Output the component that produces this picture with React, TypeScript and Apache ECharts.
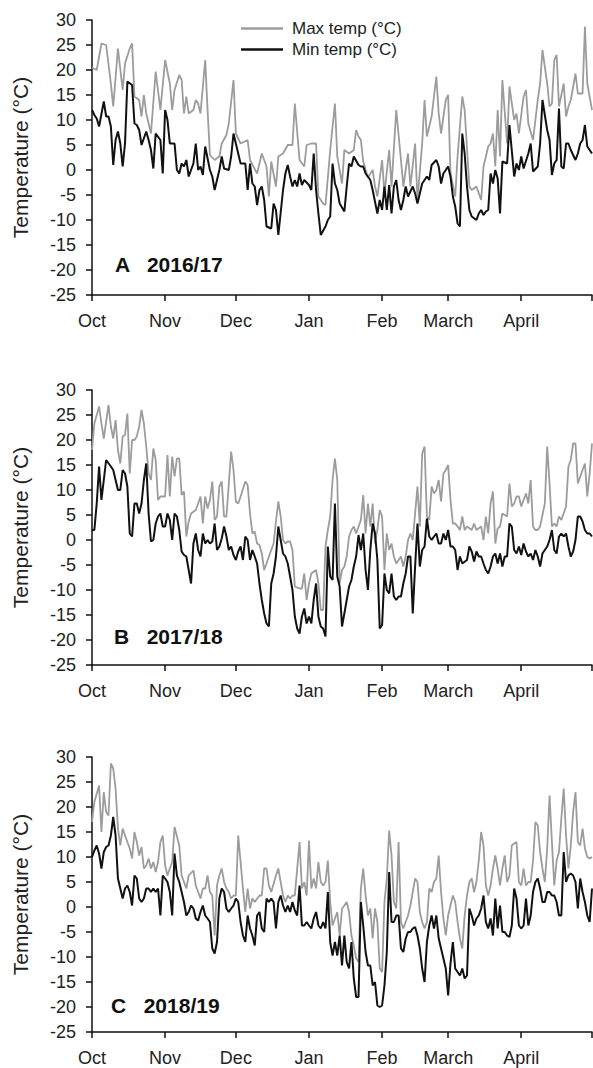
import React, { useEffect, useRef } from "react";
import * as echarts from "echarts";

// Day index counted from 1 October (0) to 1 May (212)
const monthTicks = [0, 31, 61, 92, 123, 151, 182, 212];
const monthLabels = ["Oct", "Nov", "Dec", "Jan", "Feb", "March", "April"];
const seasonLabels = ["A   2016/17", "B   2017/18", "C   2018/19"];
const seriesNames = ["Max temp (°C)", "Min temp (°C)"];

const maxA: [number, number][] = [[0,20.5],[2,20],[4,25.3],[6,25],[8,17.3],[9,12.7],[11,24.3],[13,16],[14,21.3],[16,24.3],[17,25.3],[18,14.7],[20,14],[21,10.7],[22,15],[23,11.3],[25,7.3],[27,19.7],[29,12],[31,22],[33,17.3],[34,12],[35,16],[37,19],[38,18],[39,11.3],[40,14.7],[41,11.3],[43,12],[44,14],[45,13.3],[46,11.3],[48,22],[49,12],[50,3],[52,2],[54,2.7],[55,5.3],[57,7],[58,9.3],[60,18],[61,7.3],[63,5.3],[66,6],[67,2],[70,-0.7],[72,3.3],[74,0.7],[75,-5.3],[76,1.7],[78,-3.3],[79,2.7],[81,3.3],[83,5],[85,5],[86,13.3],[88,2],[90,0.7],[91,5],[93,5.3],[95,5.3],[96,-5.3],[98,-6.7],[99,-7],[101,4],[103,13.3],[104,2.7],[106,-2.7],[107,4],[109,3.3],[111,4],[112,8],[113,6.7],[114,6],[115,1.7],[117,-1.5],[119,0],[120,-3.3],[121,-5.3],[123,2],[124,-4.7],[126,4],[127,-3.3],[129,12],[131,2],[132,-3.3],[134,3.3],[135,-3.3],[137,5.3],[138,-6],[140,5.3],[141,14],[142,6.7],[144,10.7],[146,18.7],[147,11.3],[148,7.3],[150,14],[151,15],[152,-0.7],[154,-5.3],[155,2.7],[157,14.7],[158,12],[160,-3.3],[161,-4],[163,-3.3],[165,-6],[166,0.7],[168,4.7],[169,5.3],[170,7.3],[171,0.7],[172,12],[173,2.7],[174,18],[176,5.3],[177,16.7],[179,10],[180,11.3],[181,7.3],[183,14.7],[184,16],[185,9.3],[187,6],[189,14],[190,17.3],[191,24],[193,17.3],[194,12.7],[195,13.3],[196,22],[197,23],[198,12.7],[200,17.3],[201,10.7],[202,12.7],[203,14],[205,19.3],[206,15.3],[208,15.3],[209,28.7],[210,17.3],[212,12]];

const minA: [number, number][] = [[0,12],[1,11],[2,10.3],[3,8.7],[5,13.7],[6,10.7],[7,10.7],[8,8.7],[9,1],[10,6],[11,7.7],[12,5.3],[13,0.7],[14,5.3],[15,17.7],[17,17],[18,9.3],[19,9],[20,8],[21,5],[23,7.7],[24,6],[25,4],[26,0.3],[27,7.3],[29,6],[30,-0.7],[31,12],[32,10],[33,5.3],[35,5.3],[36,0],[37,-0.7],[38,1.3],[39,0.7],[40,2],[41,-1.3],[43,1.3],[44,5.3],[45,0],[46,0.7],[47,-1],[48,4.7],[50,0],[51,-1.3],[52,-4],[54,0],[55,2.7],[56,0.3],[58,0],[59,2.7],[60,7.3],[62,3.3],[63,1.3],[65,1.3],[66,-4],[67,1.3],[68,-2.7],[69,-3.3],[70,-7],[71,-4],[72,-3.3],[73,-6],[74,-11.3],[76,-11.7],[77,-6.7],[78,-8],[79,-13],[81,-4],[82,-0.7],[83,1],[84,-1.3],[85,-3.3],[86,-2],[87,-3.3],[88,-0.7],[89,-3],[90,-2],[92,-3],[93,-4],[94,3.3],[95,-4],[96,-8.7],[97,-13],[99,-11.3],[100,-10],[101,-9.3],[102,1.3],[103,-2.7],[104,-4],[105,-6.7],[107,-8.3],[108,-3.3],[109,1.3],[110,0.7],[111,2.7],[113,1],[114,0.7],[115,0.7],[116,-0.7],[118,-2],[119,-4],[121,-8.7],[122,-6],[123,-8],[124,-3.3],[125,-8],[126,-3],[127,-8.7],[128,-3.3],[129,-2],[130,-6],[131,-8],[132,-6],[133,-3.3],[134,-5.3],[136,-3.3],[137,-4.7],[138,-6.7],[139,-4.7],[140,-2.7],[142,-1.3],[143,-2],[144,1],[146,2],[147,0.7],[148,-2.7],[149,-0.7],[151,0.7],[152,-1.3],[153,-5.3],[154,-7.3],[155,-10.7],[156,-11.3],[157,7.3],[158,3.3],[159,-3.3],[160,-8],[161,-9.3],[163,-10],[164,-8.7],[165,-8],[166,-9],[167,-8.3],[168,-8],[169,-0.7],[170,-2.7],[171,0],[172,-1.7],[173,-8.7],[174,1.7],[176,1.3],[177,9],[179,-1.3],[180,1.3],[181,0],[182,2.7],[183,0.3],[185,3.3],[186,5.3],[187,-0.3],[189,0.7],[190,5.3],[191,14],[193,8],[194,6],[195,-1],[196,1.3],[197,2],[198,12.3],[199,0.7],[200,0.3],[201,5.3],[202,5.3],[203,4],[205,2],[206,3.3],[207,5.3],[208,6],[209,9],[210,4.7],[212,3.3]];

const maxB: [number, number][] = [[0,18],[1,23.3],[3,26.7],[4,23.3],[5,20.3],[7,27],[8,22.7],[9,20.3],[10,24],[11,18],[12,15.3],[13,20.7],[14,21],[15,25.3],[16,13.3],[17,20],[18,20],[19,20.7],[20,22.7],[21,26],[22,23.3],[23,18.7],[24,13.3],[25,12],[26,18.3],[27,16],[28,8],[29,8.7],[30,8.7],[31,8.7],[32,17],[33,8.7],[34,16.7],[35,12.7],[36,16.3],[37,16.3],[38,9],[39,9.7],[40,0.7],[41,3.7],[42,5.3],[44,6],[45,7.3],[46,8.7],[47,3.3],[48,8.7],[49,6.3],[50,8],[51,11.7],[52,4],[53,4.7],[54,10.7],[55,11.7],[56,4.7],[57,4.7],[59,17.7],[60,14],[61,7.7],[62,7.3],[63,8.7],[65,11.7],[66,11],[67,5.3],[68,1.3],[69,1.7],[70,-0.7],[71,-1],[72,-2.7],[73,-6],[74,-4.7],[76,-2],[77,-0.7],[78,3.7],[79,7.7],[80,4.7],[81,0],[82,-0.7],[83,-0.3],[84,-0.3],[85,-2],[86,-9.3],[88,-9.7],[89,-9.7],[90,-6.7],[91,-12],[92,-8.7],[93,-6.7],[95,-6],[96,-8.7],[97,-14],[98,-14],[99,-1.3],[100,2],[101,4.7],[102,12],[103,16.3],[104,12],[105,-8.7],[106,-6],[107,-5.3],[108,-3.3],[109,0.7],[110,2],[111,2.7],[112,1.3],[114,4],[115,9],[116,1.3],[117,7.3],[118,2.7],[119,7.3],[120,-0.7],[121,2],[122,6],[123,4.7],[124,-6],[125,1.3],[126,-2],[127,-0.7],[128,-3.3],[129,-4.7],[131,-3.3],[132,-5.3],[133,-3.3],[134,0],[135,1.3],[136,0],[137,5.3],[138,10.7],[139,2.7],[140,17.3],[141,18.7],[142,4.7],[143,4],[144,10.7],[145,9.3],[146,10],[147,12],[148,7.7],[149,13.3],[150,14],[151,15],[152,8],[153,3.3],[154,3.3],[155,2.7],[156,2],[157,4.7],[158,2],[159,2.7],[161,2],[162,3.3],[163,2],[165,2.7],[166,0],[167,4.7],[168,1.3],[169,7.3],[170,9.7],[171,-0.7],[172,2.3],[173,2.7],[174,5.3],[176,4.7],[177,11.3],[178,6.7],[179,7.3],[180,8.7],[181,8.7],[182,6.7],[184,9.3],[185,7.3],[186,12],[187,2.7],[188,2],[189,2],[190,2.7],[192,7.3],[193,18.7],[194,11.3],[195,2.7],[196,3.3],[197,2.7],[198,4.7],[199,4],[201,6.7],[202,14.7],[203,16],[204,19.3],[205,19.3],[206,11.3],[208,14],[209,15.3],[210,8.7],[211,13.3],[212,19.3]];

const minB: [number, number][] = [[0,2],[1,2],[2,7.3],[3,14.7],[4,8],[5,12],[6,16],[8,14.7],[9,14],[10,12],[11,10],[12,10],[13,14],[14,13.3],[15,10.7],[16,1.3],[17,0.7],[18,7.3],[19,7.3],[20,5.3],[21,7.3],[22,12],[23,15.3],[24,5.3],[25,-0.3],[26,0],[27,3.3],[28,4.7],[29,5.3],[30,2.7],[31,2.7],[32,5.3],[33,4],[34,0],[35,5.3],[36,4.7],[37,2],[38,-2.3],[39,-3],[40,-3.3],[41,-6],[42,-8.7],[43,-0.7],[44,1.3],[45,-2],[46,-3.3],[47,1.3],[48,-0.7],[49,0],[50,-0.7],[51,-0.3],[52,3.3],[53,-2],[54,-1.3],[55,0.3],[56,2.7],[57,0.7],[58,-2],[59,-1.3],[60,-3],[61,-4],[62,-2.3],[63,-1.3],[64,-4],[65,0.7],[66,0],[67,-4],[68,-2],[69,-3.3],[70,-4.7],[71,-8.7],[72,-12],[73,-14.7],[74,-16.7],[75,-17.3],[76,-8.7],[77,-6.7],[78,-3.3],[79,2.7],[80,0],[81,-2.7],[82,-3.3],[83,-4.7],[84,-7.3],[85,-10],[86,-15.3],[87,-17.7],[88,-18.7],[89,-15.3],[90,-13.7],[91,-16.7],[92,-15.3],[93,-16.7],[94,-12],[95,-8.7],[96,-15.3],[97,-17.3],[98,-17.7],[99,-19.3],[100,-1.3],[101,-7.3],[102,-8],[103,7.3],[104,-7.3],[105,-9.3],[106,-17.3],[107,-14.7],[108,-12],[109,-9.3],[110,-8],[111,-5.3],[112,-3.3],[113,1],[114,-2],[115,1.3],[116,-6],[117,-10],[118,-2],[119,3.3],[120,1.3],[121,-4],[122,-17.7],[123,-17],[124,-6.7],[125,-10],[126,-10.7],[127,-6.7],[128,-11.3],[129,-12],[130,-11.3],[131,-11.3],[132,-8.7],[133,-6.7],[134,-3.3],[135,-3.3],[136,-14.7],[137,-5.3],[138,3.3],[139,-5.3],[140,-2],[141,-1.3],[142,4.3],[143,0.7],[144,0],[145,0.7],[146,1.3],[147,-0.7],[148,-0.7],[149,1.3],[150,0],[151,2],[152,-1.3],[153,-1.3],[154,-2],[155,-6],[156,-3.3],[157,-4.7],[159,-4],[160,-1.3],[161,-2.3],[162,-4.3],[163,-2.3],[164,-3.3],[165,-3.3],[166,-4.7],[167,-6],[168,-6.7],[169,-5.3],[170,-3.3],[171,-2.7],[172,-4.7],[173,-2.7],[174,-5.3],[175,-3.3],[176,-3.3],[177,3.3],[178,2.7],[179,-2],[180,-2.7],[181,-1.3],[182,-3],[183,-0.7],[184,-2.3],[185,-3.3],[186,-2.7],[187,-4],[188,-2],[189,-3.3],[190,-5.3],[191,-2.7],[192,-2],[193,-1.3],[194,0],[195,2],[196,-2],[197,-2.7],[198,0.7],[199,1.3],[200,0.7],[201,1.3],[202,-1.3],[203,-3.3],[204,-2.3],[205,0],[206,4.7],[207,4.7],[208,3.7],[209,2],[210,1.3],[211,1.3],[212,0.7]];

const maxC: [number, number][] = [[0,17],[1,21],[3,24.3],[4,15],[5,23],[6,19],[7,18.3],[8,28.7],[9,27.7],[10,23.7],[11,15.7],[12,12.3],[13,15.7],[14,14.3],[15,13],[16,11.7],[17,9.7],[18,15],[19,13],[20,10.3],[21,12],[22,7.7],[23,8.3],[24,9.7],[25,7.7],[26,9],[27,7],[28,9],[29,13],[30,14.3],[31,8.3],[32,6.3],[33,7.7],[34,9],[35,16],[37,12.3],[38,6.3],[39,5],[40,3.7],[41,6.3],[43,7.3],[44,4.3],[45,3],[46,1.7],[47,3.7],[48,3.7],[49,6.3],[50,3],[51,2.3],[52,-5.7],[53,4.3],[54,6.3],[55,7.7],[56,5],[57,3.7],[58,3],[59,1.7],[60,2.3],[61,2.3],[62,14.3],[63,9],[64,3.7],[65,-1],[66,3.7],[67,-0.3],[68,1.7],[69,1],[71,2.3],[72,2.3],[73,7.7],[74,7.7],[75,4.3],[76,3],[78,6.3],[79,7.7],[80,5],[81,2.3],[82,1],[83,2.3],[84,1.7],[85,2.3],[86,2.3],[88,13],[89,3.7],[90,5],[91,2.3],[92,13.3],[93,3.7],[94,5.7],[95,3.7],[96,9],[97,5],[98,4.3],[99,5],[100,9.3],[101,1],[102,-3.7],[103,-2.3],[104,-1],[105,-5.7],[106,-0.3],[107,0.3],[108,1],[109,-1],[110,-5.7],[111,-7.7],[112,-10.3],[113,-11],[114,3.7],[115,7.7],[116,2.3],[117,-1.7],[118,-0.3],[119,-6.3],[120,-0.3],[121,-3],[122,-12.3],[123,-13],[124,1],[125,5.7],[126,15.3],[127,10.3],[128,1],[129,-0.3],[130,13],[131,-3],[132,-4.3],[133,-3],[134,-1.7],[135,0.3],[137,5.7],[138,5],[139,-1],[140,-3],[141,-4.3],[142,-3],[143,3.7],[144,3],[145,5],[146,5.7],[147,10.3],[148,3],[149,-2.3],[150,-5.7],[151,-1.7],[152,0.3],[153,2.3],[154,1],[155,-3],[156,-6.3],[157,-8.3],[158,-1.7],[159,2.3],[160,5],[161,5.7],[162,3],[163,5],[164,9.3],[165,15],[166,12.3],[167,4.3],[168,2.3],[169,4.3],[170,7.7],[171,10.3],[172,7.7],[173,4.3],[174,7.7],[175,10.3],[176,5],[177,6.3],[178,12.3],[179,12.7],[180,13],[181,5],[182,4.3],[183,7.7],[184,4.3],[185,5],[186,5],[187,9.3],[188,17],[189,16.3],[190,11],[191,7.7],[192,5],[193,11.7],[194,22.3],[195,13],[196,4.3],[197,9.3],[198,11],[199,17.7],[200,23.7],[201,14.3],[202,7.7],[203,12.3],[204,19],[205,23],[206,13],[207,12.3],[208,15.7],[209,11.7],[210,10],[211,9.7],[212,10]];

const minC: [number, number][] = [[0,10],[1,11.3],[2,12.3],[3,10.7],[4,7.7],[5,11],[6,12],[7,12.3],[8,14.3],[9,18],[10,14.3],[11,5.7],[12,3.7],[13,1.7],[14,3.7],[15,4.3],[16,3],[17,0.3],[18,6.3],[19,5.7],[20,1.7],[21,1],[22,1.7],[23,3.7],[24,3.7],[25,3],[26,3.7],[27,3],[28,3.7],[29,-1.7],[30,6.3],[31,5.7],[32,5],[33,3],[34,-1.7],[35,10.7],[36,6.3],[37,5],[38,3],[39,1],[40,-1.7],[41,-1],[42,0.3],[43,-0.3],[44,-2.3],[45,-2.7],[46,-1],[47,0.3],[48,-1.7],[49,-2.3],[50,-3],[51,-8.3],[52,-9.3],[53,-7],[54,1.7],[55,3.7],[56,3],[57,-0.3],[58,-1],[59,-0.3],[60,0.3],[61,1.7],[62,1],[63,-3],[64,-5.7],[65,-7],[66,-1.7],[67,-4.3],[68,-5.7],[69,-7.7],[70,-1.7],[71,-1],[72,-4.3],[73,-5],[74,1.7],[75,1],[76,1.7],[77,1],[78,-4.3],[79,1],[80,2.3],[81,0.3],[82,-1],[83,0.3],[84,-1],[85,1],[86,-0.7],[87,-1.7],[88,4.3],[89,-3.7],[90,-3.7],[91,-3],[92,-3.7],[93,-4.3],[94,-2.3],[95,-1],[96,-3.7],[97,-4.3],[98,-3],[99,-4.3],[100,3],[101,-7],[102,-9.7],[103,-7],[104,-9.7],[105,-5.7],[106,-11.7],[107,-5.7],[108,-11],[109,-12.3],[110,-7],[111,-14.3],[112,-18],[113,-18],[114,1],[115,-3.7],[116,-9],[117,-11.7],[118,-11.7],[119,-15.7],[120,-15],[121,-19.7],[122,-20],[123,-19.7],[124,-15.7],[125,-9],[126,7],[127,-3],[128,-3],[129,-1.7],[130,-1.7],[131,-8.3],[132,-9],[133,-6.3],[134,-5],[135,-5],[136,-4.3],[137,-4],[138,-5.7],[139,-8.3],[140,-12.3],[141,-15],[142,-7],[143,-3.7],[144,-1.7],[145,-4.3],[146,-1.7],[147,-6.3],[148,-8.3],[149,-10.3],[150,-12.3],[151,-17.7],[152,-11.3],[153,-7],[154,-12.3],[155,-13],[156,-13.7],[157,-12.3],[158,-14.3],[159,-13.7],[160,-0.3],[161,-1.7],[162,-3.7],[163,-2.3],[164,-1.7],[165,-0.3],[166,2.3],[167,-3],[168,-4.3],[169,-2.3],[170,-5.7],[171,1.7],[172,-4.3],[173,0.3],[174,-5],[175,-5],[176,-5.7],[177,-6],[178,-3.7],[179,3.7],[180,1.7],[181,-3.7],[182,-4.3],[183,-3.7],[184,1.7],[185,-3.7],[186,-1.7],[187,3],[188,5],[189,5.7],[190,3.7],[191,1],[192,1],[193,3],[194,3],[195,2.3],[196,2.3],[197,1],[198,-1.7],[199,-1.7],[200,11],[201,5],[202,6.3],[203,6.7],[204,6.3],[205,5],[206,-0.3],[207,5.7],[208,3],[209,1],[210,-1.7],[211,-3],[212,3.7]];

const maxSets = [maxA, maxB, maxC];
const minSets = [minA, minB, minC];

export default function App() {
  const ref = useRef<HTMLDivElement>(null);
  useEffect(() => {
    if (!ref.current) return;
    const chart = echarts.init(ref.current, null, { renderer: "svg" });
    const font = '"Liberation Sans", Arial, Helvetica, sans-serif';
    const tops = [20, 390, 757];
    const H = 275;
    const ink = "#111";
    const grayLine = "#9c9c9c";
    const labelTops = [254, 626, 995];
    const labelLefts = [115, 114, 111];

    const grid = tops.map((t) => ({ left: 92, width: 500, top: t, height: H }));
    const xAxis = tops.map((_, i) => ({
      type: "value",
      gridIndex: i,
      min: 0,
      max: 212,
      axisLine: { show: true, onZero: false, lineStyle: { color: ink, width: 1.5 } },
      axisTick: { show: true, customValues: monthTicks, length: 6, lineStyle: { color: ink, width: 1.5 } },
      axisLabel: {
        customValues: monthTicks.slice(0, 7),
        formatter: (v: number) => monthLabels[monthTicks.indexOf(Math.round(v))] ?? "",
        fontSize: 18,
        color: "#222",
        margin: 17,
        fontFamily: font,
      },
      splitLine: { show: false },
    }));
    const yAxis = tops.map((_, i) => ({
      type: "value",
      gridIndex: i,
      min: -25,
      max: 30,
      interval: 5,
      name: "Temperature (°C)",
      nameLocation: "middle",
      nameGap: 61,
      nameTextStyle: { fontSize: 21, color: "#222", fontFamily: font },
      axisLine: { show: true, onZero: false, lineStyle: { color: ink, width: 1.5 } },
      axisTick: { show: true, length: 6, lineStyle: { color: ink, width: 1.5 } },
      axisLabel: { fontSize: 18, color: "#222", margin: 16, fontFamily: font },
      splitLine: { show: false },
    }));
    const series: any[] = [];
    tops.forEach((_, i) => {
      series.push({
        name: seriesNames[0],
        type: "line",
        xAxisIndex: i,
        yAxisIndex: i,
        symbol: "none",
        data: maxSets[i],
        lineStyle: { color: grayLine, width: 1.8 },
        itemStyle: { color: grayLine },
        z: 2,
      });
      series.push({
        name: seriesNames[1],
        type: "line",
        xAxisIndex: i,
        yAxisIndex: i,
        symbol: "none",
        data: minSets[i],
        lineStyle: { color: ink, width: 2 },
        itemStyle: { color: ink },
        z: 3,
      });
    });

    chart.setOption({
      animation: false,
      backgroundColor: "#fff",
      textStyle: { fontFamily: font },
      grid,
      xAxis,
      yAxis,
      series,
      legend: {
        data: [
          { name: seriesNames[0], icon: "rect", itemStyle: { color: grayLine } },
          { name: seriesNames[1], icon: "rect", itemStyle: { color: ink } },
        ],
        orient: "vertical",
        left: 241,
        top: 20,
        padding: 0,
        itemWidth: 42,
        itemHeight: 2.5,
        itemGap: 4,
        textStyle: { fontSize: 17, color: "#222", fontFamily: font, padding: [0, 0, 0, 4], lineHeight: 17 },
      },
      graphic: seasonLabels.map((s, i) => ({
        type: "text",
        left: labelLefts[i],
        top: labelTops[i],
        style: { text: s, font: `bold 21px ${font}`, fill: ink },
      })),
    });
    return () => chart.dispose();
  }, []);
  return (
    <div
      ref={ref}
      style={{ position: "absolute", left: 0, top: 0, width: 593, height: 1068, background: "#fff" }}
    />
  );
}
